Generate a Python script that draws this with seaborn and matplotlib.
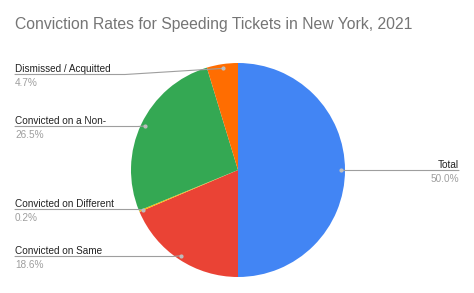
import numpy as np
import matplotlib
matplotlib.use("Agg")
import matplotlib.pyplot as plt
import seaborn as sns
from matplotlib.lines import Line2D

categories = ["Total", "Convicted on Same", "Convicted on Different",
              "Convicted on a Non-", "Dismissed / Acquitted"]
values = [50.0, 18.6, 0.2, 26.5, 4.7]
pct_labels = ["50.0%", "18.6%", "0.2%", "26.5%", "4.7%"]
colors = ["#4285F4", "#EA4335", "#FBBC04", "#34A853", "#FF6D01"]

sns.set_theme(style="white")
plt.rcParams['font.family'] = ['Liberation Sans', 'DejaVu Sans']

W, H = 474, 293
fig = plt.figure(figsize=(W / 100, H / 100), dpi=100)
fig.patch.set_facecolor("white")

cx, cy, r = 238, 170, 107
ax = fig.add_axes([(cx - r) / W, (H - cy - r) / H, 2 * r / W, 2 * r / H])
wedges, _ = ax.pie(values, colors=colors, startangle=90, counterclock=False,
                   wedgeprops=dict(linewidth=0))
ax.set_xlim(-1, 1)
ax.set_ylim(-1, 1)
ax.set_aspect("equal")
ax.axis("off")

fig.text(15 / W, 1 - 25 / H, "Conviction Rates for Speeding Tickets in New York, 2021",
         fontsize=11.3, color="#757575", va="center", ha="left")

# label layout: (text_x, baseline_y_px, elbow_x, side)
layout = {
    "Total": (459, 168, 345, "right"),
    "Convicted on Same": (15, 254, 173, "left"),
    "Convicted on Different": (15, 207, 138, "left"),
    "Convicted on a Non-": (15, 124, 138, "left"),
    "Dismissed / Acquitted": (15, 72, 125, "left"),
}

def px(x, y):
    return (x / W, 1 - y / H)

for w, cat, pct in zip(wedges, categories, pct_labels):
    ang = np.deg2rad((w.theta1 + w.theta2) / 2)
    dx, dy = 0.96 * np.cos(ang), 0.96 * np.sin(ang)
    disp = ax.transData.transform((dx, dy))
    fx, fy = fig.transFigure.inverted().transform(disp)
    tx, by, ex, side = layout[cat]
    ly = by + 2.5
    xs = [tx / W, ex / W, fx]
    ys = [1 - ly / H, 1 - ly / H, fy]
    ha = "left" if side == "left" else "right"
    fig.add_artist(Line2D(xs, ys, transform=fig.transFigure, color="#9e9e9e", lw=0.8))
    fig.add_artist(Line2D([fx], [fy], transform=fig.transFigure, marker="o",
                          markersize=2, color="#bdbdbd", lw=0))
    fig.text(*px(tx, by), cat, fontsize=7.2, color="#222222", ha=ha, va="baseline")
    fig.text(*px(tx, by + 14), pct, fontsize=7.2, color="#9e9e9e", ha=ha, va="baseline")

fig.savefig("out.png", dpi=100, facecolor="white")
